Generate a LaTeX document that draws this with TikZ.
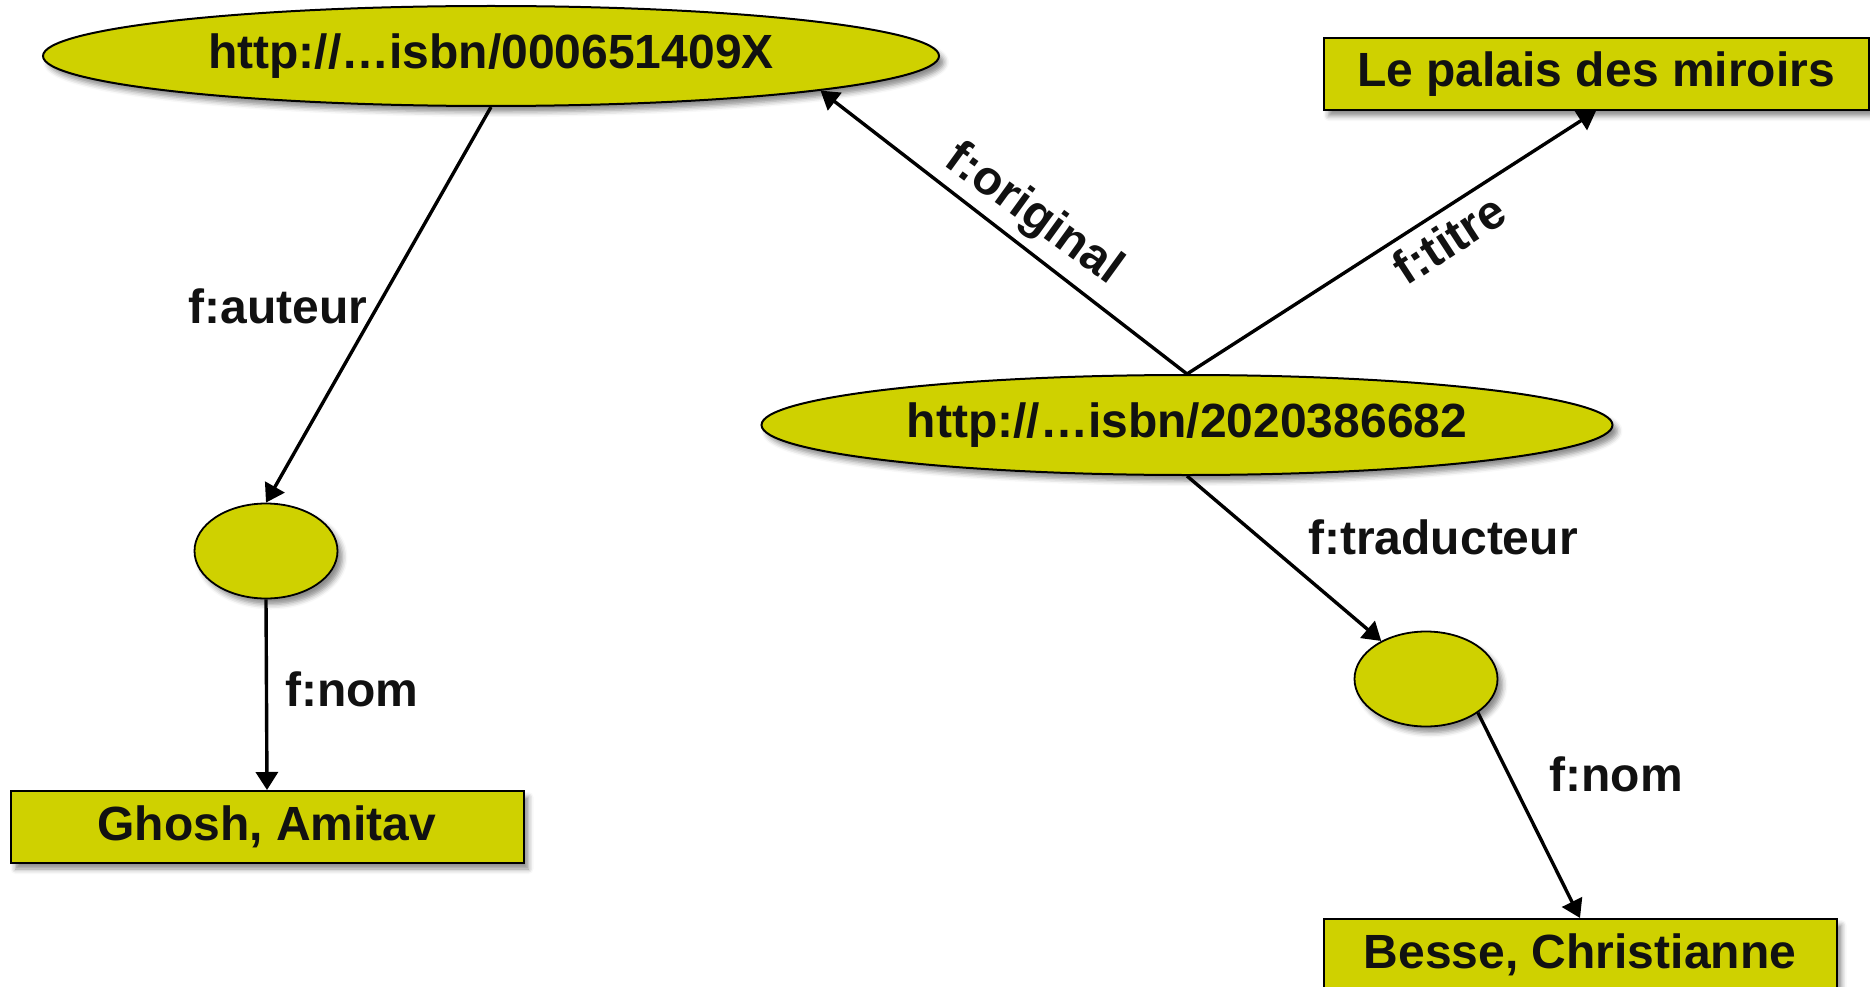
\documentclass[tikz,border=0pt]{standalone}
\usepackage{fontspec}
\setmainfont{Liberation Sans}
\usetikzlibrary{shapes.geometric,arrows.meta,calc,shadows.blur}
\definecolor{olive}{RGB}{207,209,0}
\definecolor{ink}{RGB}{17,17,17}
\tikzset{
  every node/.style={text=ink,font=\fontsize{48}{56}\selectfont\bfseries},
  shad/.style={blur shadow={shadow xshift=5pt,shadow yshift=-6pt,shadow blur radius=5pt,shadow opacity=45}},
  uri/.style={ellipse,draw=black,line width=2pt,fill=olive,inner sep=0pt,shad},
  blank/.style={ellipse,draw=black,line width=1.8pt,fill=olive,inner sep=0pt,minimum width=143pt,minimum height=95pt,shad},
  lit/.style={rectangle,draw=black,line width=2pt,fill=olive,inner sep=0pt,minimum height=72pt,shad},
  lbl/.style={inner sep=0pt},
  edge/.style={draw=black,line width=3.4pt,-{Triangle[length=18pt,width=22pt]}}
}
\begin{document}
\begin{tikzpicture}[x=1pt,y=-1pt]
\useasboundingbox (0,0) rectangle (1870,987);
\node[uri,minimum width=896pt,minimum height=100pt] (e1) at (491,56) {http://…isbn/000651409X};
\node[uri,minimum width=851pt,minimum height=100pt] (e2) at (1187,425) {http://…isbn/2020386682};
\node[lit,minimum width=545pt] (palais) at (1596,74) {Le palais des miroirs};
\node[blank] (b1) at (266,551) {};
\node[blank] (b2) at (1426,679) {};
\node[lit,minimum width=513pt] (ghosh) at (267,827) {Ghosh, Amitav};
\node[lit,minimum width=513pt] (besse) at (1580,955) {Besse, Christianne};

\draw[edge] (e1.south) -- (b1.north);
\draw[edge] (b1.south) -- (ghosh.north);
\draw[edge] (e2.north) -- (e1.-6.5);
\draw[edge] (e2.north) -- (palais.south);
\draw[edge] (e2.south) -- (b2);
\draw[edge] (b2.-33) -- (besse.north);

\node[lbl] (lauteur) at (278,306) {f:auteur};
\node[lbl] (lnom1) at (352,689) {f:nom};
\node[lbl,rotate=-36] (lorig) at (1033,215) {f:original};
\node[lbl,rotate=33] (ltitre) at (1449,239) {f:titre};
\node[lbl] (ltrad) at (1443,537) {f:traducteur};
\node[lbl] (lnom2) at (1616,774) {f:nom};
\end{tikzpicture}
\end{document}
